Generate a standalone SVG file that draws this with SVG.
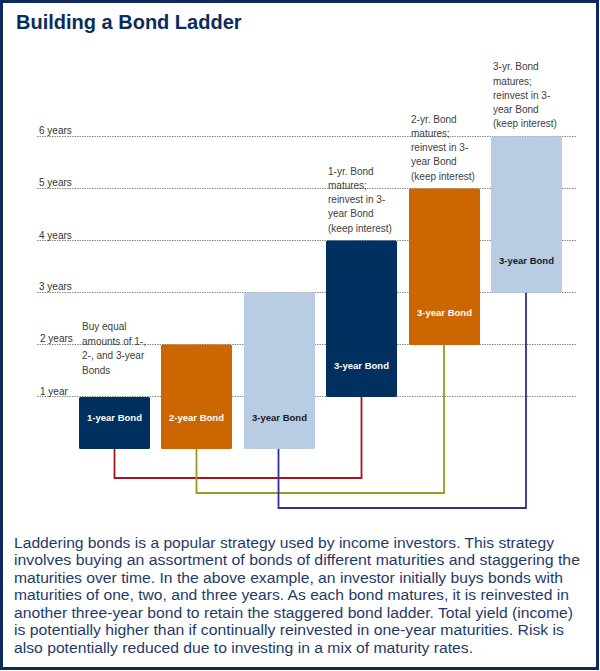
<svg xmlns="http://www.w3.org/2000/svg" width="600" height="671" viewBox="0 0 600 671">
<defs>
<style>
.grid{stroke:#8a8a8a;stroke-width:1;stroke-dasharray:1.5 1;fill:none}
.glab{font-family:"Liberation Sans",Arial,sans-serif;font-size:10px;fill:#333}
.ann{font-family:"Liberation Sans",Arial,sans-serif;font-size:10px;fill:#404040}
.blab{font-family:"Liberation Sans",Arial,sans-serif;font-size:9.5px;font-weight:bold;text-anchor:middle}
.navy{fill:#00305f}
.orange{fill:#cc6600}
.light{fill:#b8cce4}
.w{fill:#ffffff}
.d{fill:#1a1a1a}
.conn{fill:none;stroke-width:1.8}
.body{font-family:"Liberation Sans",Arial,sans-serif;font-size:14px;fill:#1f3a68}
</style>
</defs>
<rect x="0" y="0" width="600" height="671" fill="#ffffff"/>
<rect x="1.5" y="1.5" width="596" height="667" fill="none" stroke="#0d2a5e" stroke-width="3"/>
<text x="16" y="29" font-family="'Liberation Sans',Arial,sans-serif" font-size="20" font-weight="bold" fill="#0c2c5c">Building a Bond Ladder</text>

<g id="gridlines">
<line class="grid" x1="37" y1="136.5" x2="576" y2="136.5"/>
<line class="grid" x1="37" y1="188.5" x2="576" y2="188.5"/>
<line class="grid" x1="37" y1="240.5" x2="576" y2="240.5"/>
<line class="grid" x1="37" y1="292.5" x2="576" y2="292.5"/>
<line class="grid" x1="37" y1="344.5" x2="576" y2="344.5"/>
<line class="grid" x1="37" y1="396.5" x2="576" y2="396.5"/>
<text class="glab" x="39" y="133.5">6 years</text>
<text class="glab" x="39" y="186">5 years</text>
<text class="glab" x="39" y="238.5">4 years</text>
<text class="glab" x="39" y="290">3 years</text>
<text class="glab" x="40" y="342">2 years</text>
<text class="glab" x="40" y="394.5">1 year</text>
</g>

<g id="connectors">
<polyline class="conn" stroke="#a8141c" points="114.5,449 114.5,478 361.5,478 361.5,397"/>
<polyline class="conn" stroke="#9a9a22" points="196.5,449 196.5,493 444,493 444,345"/>
<polyline class="conn" stroke="#2e2e9c" points="278.5,449 278.5,508 526,508 526,292.5"/>
</g>

<g id="bond1">
<rect class="navy" x="79" y="397" width="71" height="52" rx="1.5"/>
<text class="blab w" x="114.5" y="420.5">1-year Bond</text>
</g>
<g id="bond2">
<rect class="orange" x="161" y="344.5" width="71" height="104.5" rx="1.5"/>
<text class="blab w" x="196.5" y="420.5">2-year Bond</text>
</g>
<g id="bond3">
<rect class="light" x="244" y="292.5" width="71" height="156.5" rx="1.5"/>
<text class="blab d" x="279.5" y="420.5">3-year Bond</text>
</g>
<g id="bond4">
<rect class="navy" x="326" y="240.5" width="71" height="156.5" rx="1.5"/>
<text class="blab w" x="361.5" y="368.5">3-year Bond</text>
</g>
<g id="bond5">
<rect class="orange" x="409" y="188.5" width="71" height="156.5" rx="1.5"/>
<text class="blab w" x="444.5" y="316">3-year Bond</text>
</g>
<g id="bond6">
<rect class="light" x="491" y="136.5" width="71" height="156" rx="1.5"/>
<text class="blab d" x="526.5" y="264">3-year Bond</text>
</g>

<g id="note1">
<text class="ann" x="82" y="330">Buy equal</text>
<text class="ann" x="82" y="345">amounts of 1-,</text>
<text class="ann" x="82" y="359">2-, and 3-year</text>
<text class="ann" x="82" y="374">Bonds</text>
</g>
<g id="note2">
<text class="ann" x="328" y="174.5">1-yr. Bond</text>
<text class="ann" x="328" y="189">matures;</text>
<text class="ann" x="328" y="203">reinvest in 3-</text>
<text class="ann" x="328" y="217">year Bond</text>
<text class="ann" x="328" y="231.5">(keep interest)</text>
</g>
<g id="note3">
<text class="ann" x="411" y="122.5">2-yr. Bond</text>
<text class="ann" x="411" y="137">matures;</text>
<text class="ann" x="411" y="151">reinvest in 3-</text>
<text class="ann" x="411" y="165">year Bond</text>
<text class="ann" x="411" y="179.5">(keep interest)</text>
</g>
<g id="note4">
<text class="ann" x="493" y="70">3-yr. Bond</text>
<text class="ann" x="493" y="84.5">matures;</text>
<text class="ann" x="493" y="98.5">reinvest in 3-</text>
<text class="ann" x="493" y="113">year Bond</text>
<text class="ann" x="493" y="127">(keep interest)</text>
</g>

<g id="description">
<text class="body" x="14" y="547.5" textLength="540" lengthAdjust="spacingAndGlyphs">Laddering bonds is a popular strategy used by income investors. This strategy</text>
<text class="body" x="14" y="565" textLength="566" lengthAdjust="spacingAndGlyphs">involves buying an assortment of bonds of different maturities and staggering the</text>
<text class="body" x="14" y="582.5" textLength="549" lengthAdjust="spacingAndGlyphs">maturities over time. In the above example, an investor initially buys bonds with</text>
<text class="body" x="14" y="600" textLength="555" lengthAdjust="spacingAndGlyphs">maturities of one, two, and three years. As each bond matures, it is reinvested in</text>
<text class="body" x="14" y="617.5" textLength="559" lengthAdjust="spacingAndGlyphs">another three-year bond to retain the staggered bond ladder. Total yield (income)</text>
<text class="body" x="14" y="635" textLength="550" lengthAdjust="spacingAndGlyphs">is potentially higher than if continually reinvested in one-year maturities. Risk is</text>
<text class="body" x="14" y="652.5" textLength="459" lengthAdjust="spacingAndGlyphs">also potentially reduced due to investing in a mix of maturity rates.</text>
</g>
</svg>
